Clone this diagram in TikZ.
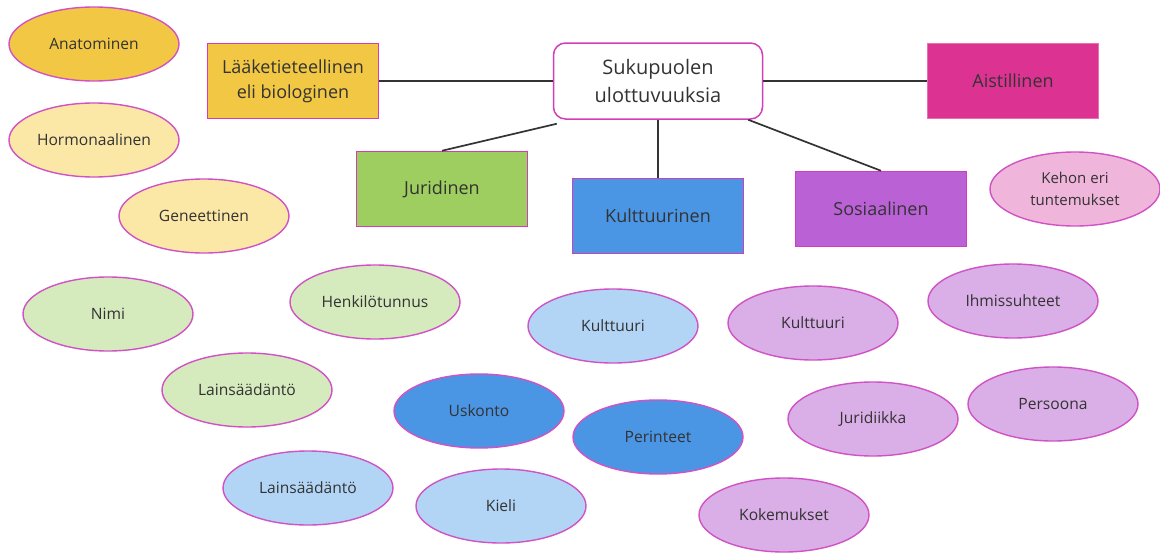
\documentclass[tikz,border=0pt]{standalone}
\usepackage{fontspec}
\setmainfont{Open Sans}
\usetikzlibrary{shapes.geometric}

\definecolor{linkgray}{HTML}{333333}
\definecolor{rimpink}{HTML}{D052C4}
\definecolor{boxrim}{HTML}{D43DBA}
\definecolor{medyellow}{HTML}{F2C744}
\definecolor{paleyellow}{HTML}{FBE7A6}
\definecolor{jurgreen}{HTML}{9DCE5F}
\definecolor{palegreen}{HTML}{D5EABD}
\definecolor{kulblue}{HTML}{4A96E4}
\definecolor{paleblue}{HTML}{B3D5F5}
\definecolor{sospurple}{HTML}{BA61D6}
\definecolor{palepurple}{HTML}{DAAEE6}
\definecolor{aistpink}{HTML}{DC3392}
\definecolor{palepink}{HTML}{F0B5DB}

\begin{document}
\begin{tikzpicture}[
			x=1pt, y=-1pt,
			base/.style={draw=boxrim, line width=1.5pt, text=black!80, align=center, font=\fontsize{18}{25}\selectfont},
			dimension/.style={base, minimum width=171pt, minimum height=75pt},
			root/.style={base, fill=white, rounded corners=12pt, minimum width=209pt, minimum height=76pt, font=\fontsize{20}{28}\selectfont},
			topic/.style={draw=rimpink, line width=1.4pt, ellipse, text=black!80, align=center, font=\fontsize{15.6}{19}\selectfont, minimum width=170pt, minimum height=74pt, inner sep=0pt},
			link/.style={draw=linkgray, line width=1.7pt},
			]

			\useasboundingbox (0,0) rectangle (1160,552);

			% main boxes
			\node [root]                               (sukupuoli)  at (658,81)  {Sukupuolen\\ulottuvuuksia};
			\node [dimension, fill=medyellow]          (laake)      at (293,81)  {Lääketieteellinen\\eli biologinen};
			\node [dimension, fill=aistpink, draw=aistpink!70!white] (aisti) at (1013,81) {Aistillinen};
			\node [dimension, fill=jurgreen]           (juridinen)  at (442,189) {Juridinen};
			\node [dimension, fill=kulblue]            (kulttuuri)  at (658,216) {Kulttuurinen};
			\node [dimension, fill=sospurple]          (sosiaali)   at (881,209) {Sosiaalinen};

			\draw [link] (laake.east) -- (sukupuoli.west);
			\draw [link] (sukupuoli.east) -- (aisti.west);
			\draw [link] (sukupuoli.south west) ++(4pt,-4pt) coordinate (sw) (sw) -- (juridinen.north);
			\draw [link] (sukupuoli.south) -- (kulttuuri.north);
			\draw [link] (sukupuoli.south east) ++(-15pt,0) coordinate (se) (se) -- (sosiaali.north);

			% biological
			\node [topic, fill=medyellow]   (anatomi)   at (94,44)   {Anatominen};
			\node [topic, fill=paleyellow]  (hormoni)   at (94,140)  {Hormonaalinen};
			\node [topic, fill=paleyellow]  (geeni)     at (204,216) {Geneettinen};

			% legal
			\node [topic, fill=palegreen]   (nimi)      at (108,314) {Nimi};
			\node [topic, fill=palegreen]   (hetu)      at (375,302) {Henkilötunnus};
			\node [topic, fill=palegreen]   (laki)      at (247,390) {Lainsäädäntö};

			% cultural
			\node [topic, fill=paleblue]    (kulttb)    at (613,326) {Kulttuuri};
			\node [topic, fill=kulblue]     (uskonto)   at (479,411) {Uskonto};
			\node [topic, fill=kulblue]     (perinne)   at (658,437) {Perinteet};
			\node [topic, fill=paleblue]    (lakib)     at (308,488) {Lainsäädäntö};
			\node [topic, fill=paleblue]    (kieli)     at (501,506) {Kieli};

			% social
			\node [topic, fill=palepurple]  (kulttp)    at (813,323) {Kulttuuri};
			\node [topic, fill=palepurple]  (ihmis)     at (1013,301) {Ihmissuhteet};
			\node [topic, fill=palepurple]  (juridiik)  at (873,419) {Juridiikka};
			\node [topic, fill=palepurple]  (persoona)  at (1053,404) {Persoona};
			\node [topic, fill=palepurple]  (kokemus)   at (784,515) {Kokemukset};

			% sensory
			\node [topic, fill=palepink, font=\fontsize{15}{22}\selectfont] (keho) at (1075,189) {Kehon eri\\tuntemukset};

		\end{tikzpicture}
\end{document}
